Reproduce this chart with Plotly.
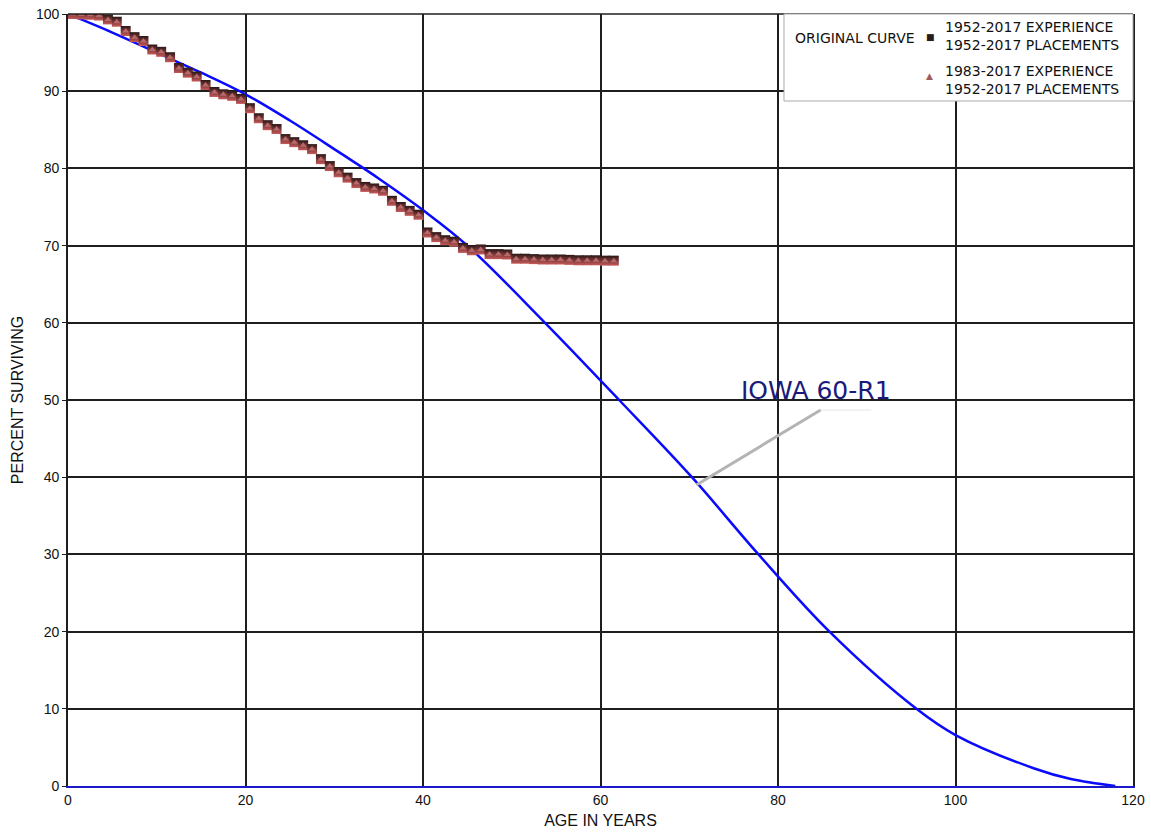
import plotly.graph_objects as go

# --- data ---
obs_age = [i + 0.5 for i in range(62)]
exp_1952 = [100, 99.95, 99.9, 99.8, 99.3, 99.0, 97.8, 97.0, 96.5, 95.4,
            95.1, 94.4, 93.0, 92.4, 91.9, 90.8, 89.9, 89.6, 89.4, 89.0,
            87.8, 86.5, 85.6, 85.1, 83.8, 83.4, 83.0, 82.5, 81.2, 80.3,
            79.5, 78.8, 78.1, 77.6, 77.4, 77.1, 75.8, 75.0, 74.5, 74.0,
            71.7, 71.1, 70.7, 70.5, 69.7, 69.4, 69.5, 68.9, 68.9, 68.85,
            68.3, 68.3, 68.25, 68.2, 68.2, 68.2, 68.15, 68.1, 68.1, 68.1,
            68.05, 68.05]
exp_1983 = list(exp_1952)

curve_age = [0, 5, 10, 15, 20, 25, 30, 35, 40, 45, 53.75, 62.1,
             70.3, 77.8, 85.8, 95.6, 100, 108.8, 113, 118]
curve_pct = [100, 97.6, 95.0, 92.4, 89.6, 86.2, 82.5, 78.7, 74.6, 70.0,
             60.0, 50.0, 40.0, 30.0, 20.0, 10.0, 6.6, 2.3, 0.9, 0.0]

x_ticks = [0, 20, 40, 60, 80, 100, 120]
y_ticks = [0, 10, 20, 30, 40, 50, 60, 70, 80, 90, 100]

fig = go.Figure()
fig.add_trace(go.Scatter(x=curve_age, y=curve_pct, mode="lines",
                         line=dict(color="#0a0aff", width=2.5, shape="spline", smoothing=1.0),
                         name="ORIGINAL CURVE"))
fig.add_trace(go.Scatter(x=obs_age, y=exp_1952, mode="markers",
                         marker=dict(symbol="square", size=10, color="#2a1616",
                                     gradient=dict(type="vertical", color="#c85a5a"),
                                     line=dict(width=0)),
                         name="1952-2017 EXPERIENCE"))
fig.add_trace(go.Scatter(x=obs_age, y=exp_1983, mode="markers",
                         marker=dict(symbol="triangle-up", size=6, color="#b86a6a",
                                     line=dict(width=0)),
                         name="1983-2017 EXPERIENCE"))

axis_font = dict(family="Liberation Sans, Arial", size=14, color="#111")
title_font = dict(family="Liberation Sans, Arial", size=16, color="#111")
fig.update_xaxes(range=[0, 120], tickvals=x_ticks, showgrid=True,
                 gridcolor="#1e1e1e", gridwidth=1.6, showline=True,
                 linecolor="#1a1acc", linewidth=1.6, mirror=False,
                 ticks="", zeroline=False, tickfont=axis_font, automargin=False,
                 title=dict(text="AGE IN YEARS", font=title_font, standoff=8))
fig.update_yaxes(range=[0, 100], tickvals=y_ticks, showgrid=True,
                 gridcolor="#1e1e1e", gridwidth=1.6, showline=True,
                 linecolor="#1e1e1e", linewidth=1.6, mirror=True,
                 ticks="outside", ticklen=4, tickcolor="#1e1e1e",
                 zeroline=False, tickfont=axis_font, automargin=False,
                 title=dict(text="PERCENT SURVIVING", font=title_font, standoff=8))
# top border
fig.add_shape(type="line", xref="paper", yref="paper", x0=0, x1=1, y0=1, y1=1,
              line=dict(color="#1e1e1e", width=1.6))

# custom legend box
fig.add_shape(type="rect", xref="paper", yref="paper", x0=0.6723, x1=1.0,
              y0=0.8873, y1=1.0, line=dict(color="#aaaaaa", width=1),
              fillcolor="white", layer="above")
lf = dict(family="DejaVu Sans, Verdana", size=14, color="#111")
fig.add_annotation(xref="paper", yref="paper", x=0.6808, y=0.9689, text="ORIGINAL CURVE",
                   showarrow=False, xanchor="left", yanchor="middle", font=lf)
fig.add_annotation(xref="paper", yref="paper", x=0.8094, y=0.970, text="■",
                   showarrow=False, xanchor="center", yanchor="middle",
                   font=dict(family="DejaVu Sans", size=9, color="#2a1a1a"))
fig.add_annotation(xref="paper", yref="paper", x=0.8216, y=0.9709,
                   text="1952-2017 EXPERIENCE<br>1952-2017 PLACEMENTS",
                   showarrow=False, xanchor="left", yanchor="middle", align="left", font=lf)
fig.add_annotation(xref="paper", yref="paper", x=0.8085, y=0.9197, text="▲",
                   showarrow=False, xanchor="center", yanchor="middle",
                   font=dict(family="DejaVu Sans", size=9, color="#a05c5c"))
fig.add_annotation(xref="paper", yref="paper", x=0.8216, y=0.9145,
                   text="1983-2017 EXPERIENCE<br>1952-2017 PLACEMENTS",
                   showarrow=False, xanchor="left", yanchor="middle", align="left", font=lf)

# curve label with leader line
fig.add_shape(type="line", x0=70.8, y0=39.0, x1=84.8, y1=48.7,
              line=dict(color="#b4b4b4", width=3))
fig.add_shape(type="line", x0=84.8, y0=48.7, x1=90.5, y1=48.7,
              line=dict(color="#e4e4e4", width=1))
fig.add_annotation(x=84.3, y=51.2, text="IOWA 60-R1", showarrow=False,
                   xanchor="center", yanchor="middle",
                   font=dict(family="DejaVu Sans, Verdana", size=25, color="#1a1a7a"))

fig.update_layout(width=1151, height=833, showlegend=False,
                  margin=dict(l=68, r=18, t=14, b=47),
                  paper_bgcolor="white", plot_bgcolor="white")
fig.write_html("out.html")
